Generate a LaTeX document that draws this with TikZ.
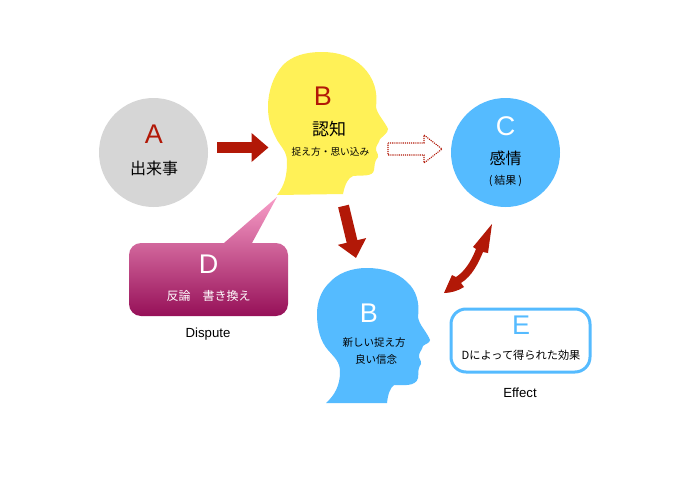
\documentclass[tikz,border=0pt]{standalone}
\usepackage{fontspec}
\setmainfont{Liberation Sans}
\newfontfamily\jp{Noto Sans CJK JP}
\usetikzlibrary{arrows.meta}
\definecolor{headyellow}{HTML}{FFF157}
\definecolor{skyblue}{HTML}{55BBFF}
\definecolor{softgrey}{HTML}{D6D6D6}
\definecolor{deepred}{HTML}{B21807}
\tikzset{
  bigletter/.style={inner sep=0pt,font=\fontsize{27}{27}\selectfont},
  labeltext/.style={inner sep=0pt,font=\jp\fontsize{#1}{#1}\selectfont},
  latinlabel/.style={inner sep=0pt,font=\fontsize{13.2}{13.2}\selectfont},
  disc/.style={circle,inner sep=0pt,minimum size=#1},
  blockarrow/.style={draw=deepred,line width=11pt,-{Triangle[length=17pt,width=28pt]}},
}
\begin{document}
\begin{tikzpicture}[x=1pt,y=-1pt]
\useasboundingbox (0,0) rectangle (680,479);
\fill[white] (0,0) rectangle (680,479);
% circles
\node[disc=109pt,fill=softgrey] (circA) at (153.5,152.5) {};
\node[disc=109pt,fill=skyblue] (circC) at (505.5,152.5) {};
% yellow head
\fill[headyellow] (277,195) -- (343,194)
 .. controls (345,184) and (348,178) .. (353,176)
 .. controls (362,175) and (373,177) .. (374,170)
 .. controls (375,164) and (374,162) .. (378,157)
 .. controls (379,153) and (375,152) .. (376,148)
 .. controls (377,144) and (379,143) .. (380,139)
 .. controls (383,136) and (388,133) .. (388,129)
 .. controls (385,122) and (377,114) .. (376,107)
 .. controls (378,92) and (374,78) .. (363,67)
 .. controls (352,56) and (337,52) .. (322,52)
 .. controls (305,52) and (292,56) .. (283,65)
 .. controls (273,76) and (268,92) .. (268,107)
 .. controls (268,122) and (272,130) .. (277,140)
 .. controls (282,148) and (287,152) .. (287,162)
 .. controls (287,175) and (285,185) .. (277,195) -- cycle;
% blue head
\fill[skyblue] (326,403) -- (387,403)
 .. controls (388,394) and (390,388) .. (394,385)
 .. controls (402,385) and (416,387) .. (418,378)
 .. controls (419,372) and (417,370) .. (421,364)
 .. controls (422,360) and (418,359) .. (419,355)
 .. controls (420,351) and (422,350) .. (423,346)
 .. controls (425,344) and (430,343) .. (430,340)
 .. controls (427,332) and (419,325) .. (418,317)
 .. controls (420,302) and (416,290) .. (407,282)
 .. controls (397,272) and (382,268) .. (367,268)
 .. controls (350,268) and (337,274) .. (329,283)
 .. controls (321,291) and (317,302) .. (317,314)
 .. controls (317,330) and (321,342) .. (328,350)
 .. controls (335,358) and (340,362) .. (340,372)
 .. controls (340,385) and (335,395) .. (326,403) -- cycle;
% callout D
\shade[top color={rgb,255:red,248;green,158;blue,200},
       bottom color={rgb,255:red,150;green,16;blue,88}]
 (277,197) -- (252,243) -- (276,243)
 arc[start angle=90,end angle=0,x radius=12,y radius=-12] -- (288,304)
 arc[start angle=0,end angle=-90,x radius=12,y radius=-12] -- (141,316)
 arc[start angle=-90,end angle=-180,x radius=12,y radius=-12] -- (129,255)
 arc[start angle=180,end angle=90,x radius=12,y radius=-12] -- (224,243) -- cycle;
% box E
\draw[draw=skyblue,line width=3pt,rounded corners=15pt,fill=white] (451,309) rectangle (590,372);
% arrows
\coordinate (arrAstart) at (217,147.5);
\coordinate (arrAend) at (268.5,147.5);
\draw[blockarrow] (arrAstart) -- (arrAend);
\coordinate (arrBstart) at (343.5,206);
\coordinate (arrBend) at (356,258);
\draw[blockarrow] (arrBstart) -- (arrBend);
% dotted outline arrow
\draw[draw=deepred,densely dotted,line width=1.1pt,fill=white]
 (388,143) -- (424,143) -- (424,135) -- (442,149) -- (424,163) -- (424,155) -- (388,155) -- cycle;
% curved double arrow
\fill[deepred] (492,224) -- (488,253) -- (483,252)
 .. controls (478,264) and (472,276) .. (461,283)
 -- (464,287) .. controls (458,291) and (450,293) .. (444,293)
 -- (452,275) -- (456,277)
 .. controls (464,272) and (471,262) .. (476,249)
 -- (473,247) -- cycle;
% labels
\node[bigletter,text=deepred] (lblA) at (154,134) {A};
\node[labeltext=16] (txtA) at (154,168) {出来事};
\node[bigletter,text=deepred] (lblB) at (323,96) {B};
\node[labeltext=17] (txtB) at (329,129) {認知};
\node[labeltext=9.7] (txtBb) at (330.5,152) {捉え方・思い込み};
\node[bigletter,text=white] (lblC) at (505.5,126) {C};
\node[labeltext=16] (txtC) at (505.5,158) {感情};
\node[labeltext=11] (txtCb) at (505.5,181) {(\kern2pt 結果\kern2pt )};
\node[bigletter,text=white] (lblD) at (208.5,264) {D};
\node[labeltext=12,text=white] (txtD) at (208.5,296) {反論　書き換え};
\node[latinlabel] (capD) at (208,334) {Dispute};
\node[bigletter,text=white] (lblBb) at (369,313.5) {B};
\node[labeltext=10.5] (txtBc) at (374,343) {新しい捉え方};
\node[labeltext=10.5] (txtBd) at (376,360) {良い信念};
\node[bigletter,text=skyblue] (lblE) at (521,325.5) {E};
\node[labeltext=11.2] (txtE) at (521,355) {Dによって得られた効果};
\node[latinlabel] (capE) at (520,393) {Effect};
\end{tikzpicture}
\end{document}
